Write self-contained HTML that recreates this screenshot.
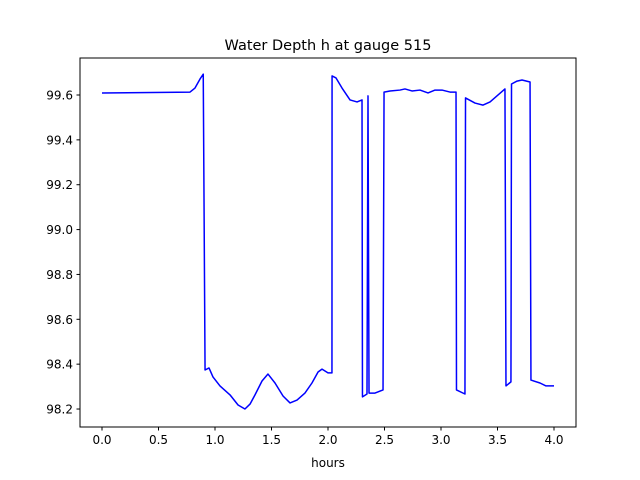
<!DOCTYPE html>
<html><head><meta charset="utf-8"><style>body{margin:0;background:#fff}svg{display:block;font-family:"DejaVu Sans","Liberation Sans",sans-serif}</style></head>
<body>
<svg id="c" width="640" height="480"></svg>
<script>
const tVals=[0,0.779,0.823,0.867,0.896,0.912,0.947,0.982,1.044,1.133,1.204,1.265,1.310,1.354,1.416,1.469,1.531,1.602,1.664,1.726,1.796,1.858,1.912,1.947,2.0,2.035,2.036,2.071,2.124,2.195,2.257,2.301,2.305,2.345,2.354,2.363,2.416,2.487,2.496,2.549,2.637,2.681,2.743,2.814,2.885,2.947,3.009,3.080,3.133,3.137,3.212,3.217,3.301,3.372,3.434,3.566,3.575,3.619,3.624,3.673,3.717,3.788,3.796,3.876,3.929,4.0];
const hVals=[99.609,99.613,99.631,99.671,99.693,98.374,98.383,98.343,98.303,98.263,98.218,98.200,98.222,98.263,98.325,98.356,98.316,98.258,98.227,98.240,98.271,98.316,98.365,98.378,98.361,98.361,99.685,99.676,99.631,99.578,99.569,99.578,98.254,98.267,99.596,98.271,98.271,98.285,99.613,99.618,99.622,99.627,99.618,99.622,99.609,99.622,99.622,99.613,99.613,98.285,98.267,99.587,99.564,99.555,99.569,99.627,98.303,98.321,99.649,99.662,99.667,99.658,98.329,98.316,98.303,98.303];
const xTicks=[0,0.5,1,1.5,2,2.5,3,3.5,4];
const yTicks=[98.2,98.4,98.6,98.8,99.0,99.2,99.4,99.6];
const svg=document.getElementById('c');const NS='http://www.w3.org/2000/svg';
const L=80,R=576,T=58,B=427;
const xs=t=>102+t*113, ys=h=>95+(99.6-h)*224.3;
function mk(tag,a,p){const e=document.createElementNS(NS,tag);for(const k in a)e.setAttribute(k,a[k]);(p||svg).appendChild(e);return e;}
const title=mk('text',{x:328,y:50,'text-anchor':'middle','font-size':14.5,fill:'#000'});title.textContent='Water Depth h at gauge 515';


const line=mk('polyline',{points:tVals.map((t,i)=>xs(t)+','+ys(hVals[i])).join(' '),fill:'none',stroke:'#0000ff','stroke-width':1.5,'stroke-linejoin':'round'});


const frame=mk('rect',{x:L,y:T,width:R-L,height:B-T,fill:'none',stroke:'#000','stroke-width':1});


xTicks.forEach(v=>{const x=xs(v);mk('line',{x1:x,x2:x,y1:B,y2:B+3.5,stroke:'#000'});
const t=mk('text',{x:x,y:B+17,'text-anchor':'middle','font-size':12});t.textContent=v.toFixed(1);

});
yTicks.forEach(v=>{const y=ys(v);mk('line',{x1:L-3.5,x2:L,y1:y,y2:y,stroke:'#000'});
const t=mk('text',{x:L-7,y:y+4.5,'text-anchor':'end','font-size':12});t.textContent=v.toFixed(1);

});
const xl=mk('text',{x:328,y:467,'text-anchor':'middle','font-size':12});xl.textContent='hours';


</script>
</body></html>
